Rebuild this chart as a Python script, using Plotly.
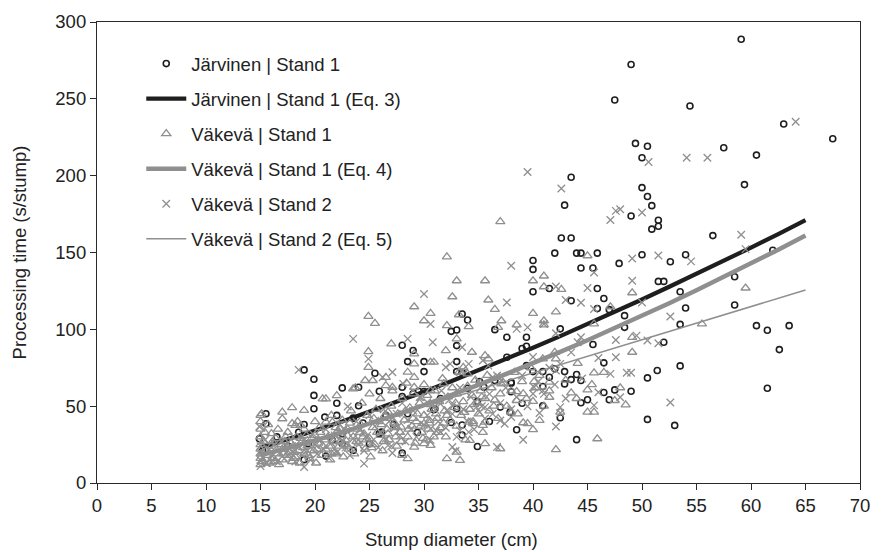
import plotly.graph_objects as go

# ---------------- data ----------------
jarvinen_pts = [
    (59.1, 288.8), (49.0, 272.3), (47.5, 249.2), (54.4, 245.3), (63.0, 233.6), (67.5, 224.0),
    (49.4, 221.0), (50.5, 219.1), (57.5, 218.2), (50.0, 211.7), (60.5, 213.4), (43.5, 199.0),
    (59.4, 194.2), (50.0, 192.2), (50.5, 186.4), (50.9, 180.5), (42.9, 180.8), (49.0, 173.8),
    (51.5, 171.0), (51.5, 167.1), (50.9, 165.2), (42.6, 159.4), (43.5, 159.4), (56.5, 161.0),
    (42.0, 149.6), (44.0, 149.6), (44.4, 149.6), (45.9, 149.6), (50.0, 148.5), (54.0, 148.5),
    (62.0, 151.5), (40.0, 144.8), (40.0, 139.0), (47.9, 142.9), (52.6, 144.0), (44.4, 139.9),
    (45.5, 139.9), (58.5, 134.2), (51.5, 131.2), (52.0, 131.2), (40.0, 124.5), (41.5, 126.6),
    (45.9, 126.6), (53.5, 124.5), (46.5, 120.1),
    (54.0, 113.9), (53.5, 103.2), (58.5, 115.8), (60.5, 102.4), (61.5, 99.4), (63.5, 102.4),
    (62.6, 86.8), (61.5, 61.7), (52.0, 91.6), (53.5, 76.2), (51.4, 73.2), (50.5, 68.4),
    (50.5, 41.4), (53.0, 37.5),
    (43.5, 118.6), (45.9, 113.6), (47.0, 112.8), (42.5, 100.3), (39.4, 94.8), (39.4, 89.0),
    (39.0, 87.5), (48.4, 108.9), (48.4, 101.3), (45.5, 90.1), (46.5, 78.2), (39.4, 76.4),
    (40.0, 72.5), (40.9, 72.5), (42.0, 74.3), (42.9, 72.5), (41.5, 68.8), (44.0, 70.6),
    (44.4, 66.7), (42.9, 64.5), (40.9, 62.8), (38.0, 64.9), (38.0, 59.4), (39.0, 51.9),
    (40.9, 50.3), (42.5, 42.5), (38.5, 34.7), (44.0, 28.2), (44.4, 52.2), (45.0, 54.2),
    (46.5, 58.9), (47.0, 54.2), (47.5, 60.6), (49.0, 59.7), (43.5, 67.3),
    (33.5, 110.0), (34.0, 106.1), (32.5, 98.7), (33.0, 99.6), (36.5, 99.8), (37.6, 94.8),
    (28.0, 89.6), (33.0, 89.4), (29.0, 86.2), (28.5, 79.0), (30.0, 79.0), (30.0, 72.5),
    (33.0, 79.0), (33.0, 72.5), (33.5, 72.1), (37.6, 81.8), (38.0, 65.6), (28.0, 62.3),
    (29.0, 58.1), (29.5, 59.7), (30.0, 59.5), (34.0, 61.7), (35.1, 66.0), (34.9, 53.1),
    (36.5, 66.7), (31.0, 48.3), (33.0, 48.3), (37.0, 49.4), (32.5, 39.4), (33.5, 37.7),
    (33.5, 31.2), (29.4, 32.9), (34.9, 23.8), (28.0, 19.5), (37.9, 46.1),
    (19.0, 73.6), (19.9, 67.5), (19.9, 57.0), (19.9, 48.3), (15.5, 45.1), (15.5, 38.6),
    (14.9, 28.8), (19.0, 38.1), (22.0, 51.9), (22.0, 44.0), (22.5, 61.9), (24.0, 62.3),
    (24.0, 50.3), (25.5, 71.4), (25.9, 59.7), (22.5, 32.1), (22.5, 25.6), (21.0, 17.5),
    (19.0, 15.2), (21.6, 27.7), (23.5, 21.2), (19.4, 25.6), (25.9, 32.1), (20.9, 42.9),
    (28.0, 56.3), (25.0, 25.6), (26.1, 33.1), (30.9, 47.7), (35.5, 62.3), (28.5, 45.1),
    (23.5, 42.2), (24.4, 39.0), (15.2, 21.0), (16.5, 30.0), (17.5, 24.0), (18.5, 33.0),
    (26.5, 44.0), (27.2, 38.0), (31.5, 55.0), (36.0, 40.0),
]

vakeva1_pts = [
    (37.0, 170.1), (32.1, 147.2), (33.0, 131.6), (35.6, 131.6), (32.6, 121.2), (40.0, 131.6),
    (41.0, 134.7), (41.0, 127.7), (42.6, 126.0), (45.0, 147.9), (49.1, 123.8), (59.5, 126.9),
    (45.6, 103.5), (47.1, 114.7), (55.5, 103.5), (49.1, 94.8), (49.1, 85.1), (44.1, 77.9),
    (45.6, 71.7), (40.0, 110.4), (42.1, 111.3), (38.5, 102.9), (41.0, 105.6), (41.0, 102.9),
    (45.0, 60.6), (43.5, 58.7), (48.5, 50.9), (47.5, 53.7), (45.0, 46.1), (45.6, 46.1),
    (41.5, 55.8), (40.0, 53.1), (40.6, 40.7), (39.1, 39.2), (39.5, 38.6), (40.0, 34.7),
    (42.1, 21.7), (45.9, 28.8), (42.5, 46.1), (38.0, 46.1), (42.1, 80.8), (40.9, 80.8),
    (41.5, 65.6), (40.1, 66.0), (38.5, 59.5), (39.1, 58.1), (38.5, 53.7),
    (29.1, 114.7), (30.6, 110.4), (30.0, 105.6), (35.9, 119.1), (36.5, 113.0), (33.2, 109.5),
    (34.1, 101.8), (37.1, 105.6), (36.8, 101.3), (32.1, 102.4), (27.0, 90.5), (29.1, 84.0),
    (29.1, 77.5), (30.6, 78.6), (30.9, 78.6), (33.0, 93.8), (32.0, 86.2), (34.4, 85.1),
    (35.6, 82.9), (35.9, 80.8), (28.5, 72.1), (26.5, 68.8), (26.5, 63.4), (27.1, 62.3),
    (29.1, 68.8), (29.1, 62.3), (30.6, 60.2), (31.8, 64.5), (33.6, 75.3), (34.0, 71.0),
    (36.9, 68.8), (37.1, 64.5), (26.7, 46.1), (27.3, 36.4), (27.9, 36.4), (29.1, 23.4),
    (30.0, 25.6), (30.6, 24.5), (32.1, 15.8), (33.0, 20.1), (34.1, 39.6), (34.5, 38.6),
    (35.6, 25.6), (33.3, 14.7), (34.2, 27.7), (35.4, 37.5), (35.6, 39.6), (37.0, 22.3),
    (28.5, 15.8), (30.0, 38.6), (30.5, 40.7),
    (24.9, 108.4), (25.5, 103.9), (24.9, 85.5), (24.9, 75.3), (24.6, 66.7), (25.3, 66.7),
    (15.1, 45.1), (17.0, 46.1), (17.0, 41.8), (17.9, 49.0), (19.0, 47.2), (20.7, 54.8),
    (21.0, 54.8), (22.0, 56.9), (23.5, 61.3), (23.7, 61.9), (17.9, 38.6), (18.2, 37.5),
    (18.7, 37.5), (16.0, 32.1), (21.0, 39.6), (21.6, 39.6), (22.3, 35.3), (22.8, 34.2),
    (15.0, 12), (15.0, 16), (15.0, 19), (15.0, 22), (15.0, 25), (15.0, 30), (15.0, 35),
    (15.0, 40), (15.0, 44), (15.2, 14), (15.3, 27), (15.6, 18), (15.8, 13), (16.0, 21),
    (16.0, 24), (16.2, 16), (16.4, 29), (16.5, 19), (16.7, 12), (17.0, 15), (17.0, 22),
    (17.2, 27), (17.4, 18), (17.5, 33), (17.7, 20), (17.9, 14), (18.0, 24), (18.2, 17),
    (18.3, 30), (18.5, 21), (18.6, 13), (18.8, 27), (19.0, 19), (19.0, 35), (19.3, 24),
    (19.5, 16), (19.7, 29), (19.9, 21), (20.0, 40), (20.1, 13), (20.3, 26), (20.5, 33),
    (20.6, 18), (21.0, 22), (21.2, 30), (21.4, 15), (21.5, 44), (21.7, 27), (21.9, 36),
    (22.0, 19), (22.2, 24), (22.4, 31), (22.5, 41), (22.6, 17), (22.8, 28), (23.0, 35),
    (23.1, 22), (23.3, 47), (23.5, 30), (23.6, 19), (24.0, 26), (24.2, 38), (24.3, 52),
    (24.5, 32), (24.6, 22), (24.8, 44), (25.0, 29), (25.0, 58), (25.1, 17), (25.3, 36),
    (25.5, 25), (25.6, 48), (25.8, 40), (26.0, 31), (26.0, 55), (26.2, 21), (26.4, 44),
    (26.6, 35), (26.8, 28), (27.0, 50), (27.1, 60), (27.3, 39), (27.5, 24), (27.6, 45),
    (27.8, 33), (28.0, 55), (28.0, 18), (28.2, 41), (28.4, 65), (28.5, 30), (28.7, 49),
    (28.9, 37), (29.0, 58), (29.2, 26), (29.4, 45), (29.6, 52), (29.8, 33), (30.0, 64),
    (30.0, 44), (30.2, 28), (30.3, 57), (30.5, 39), (30.7, 48), (30.9, 30), (31.0, 60),
    (31.2, 42), (31.4, 53), (31.5, 36), (31.7, 68), (31.9, 47), (32.0, 30), (32.2, 56),
    (32.4, 41), (32.6, 62), (32.8, 49), (33.0, 37), (33.0, 58), (33.2, 72), (33.4, 44),
    (33.6, 53), (33.8, 28), (34.0, 63), (34.2, 48), (34.4, 57), (34.5, 40), (34.7, 67),
    (34.9, 52), (35.0, 45), (35.2, 60), (35.4, 33), (35.6, 55), (35.8, 70), (36.0, 47),
    (36.2, 62), (36.5, 54), (36.8, 42), (37.0, 58), (37.3, 65), (37.6, 50), (38.0, 60),
    (38.3, 72), (38.6, 45), (39.0, 66), (39.4, 55), (39.8, 75), (40.2, 62), (40.6, 70),
    (41.0, 50), (41.5, 60), (42.0, 85), (43.0, 67), (44.0, 55), (45.4, 64), (46.5, 72),
    (48.0, 62),
    (15.4, 33), (15.7, 38), (16.1, 27), (16.6, 35), (16.9, 25), (17.3, 30), (17.8, 26),
    (18.1, 20), (18.4, 40), (18.9, 23), (19.2, 31), (19.6, 26), (20.2, 22), (20.4, 36),
    (20.9, 28), (21.3, 24), (21.8, 20), (22.1, 34), (22.7, 25), (23.2, 39), (23.8, 27),
    (24.1, 33), (24.7, 28), (25.2, 23), (25.7, 33), (26.3, 27), (26.9, 42), (27.4, 30),
    (27.9, 27), (28.6, 35), (29.3, 40), (29.9, 29), (30.4, 35), (31.1, 45), (31.8, 39),
    (15.5, 21), (16.3, 14), (17.1, 19), (18.0, 16), (18.7, 29), (19.4, 18), (20.0, 31),
    (20.7, 24), (21.5, 19), (22.3, 27), (23.0, 24), (23.9, 35), (24.4, 30), (25.4, 42),
    (26.1, 38), (26.7, 32), (27.5, 36), (28.3, 47), (29.0, 42), (29.7, 37), (30.6, 51),
    (31.3, 33), (32.1, 44), (32.9, 52), (33.7, 46), (34.6, 51), (35.3, 56), (36.4, 50),
]

vakeva2_pts = [
    (64.1, 235.1), (39.5, 202.4), (42.6, 191.6), (54.1, 211.7), (56.0, 211.7), (50.6, 208.9),
    (47.6, 177.1), (48.0, 178.2), (47.1, 171.2), (50.0, 176.0), (59.1, 161.5), (59.5, 152.2),
    (38.0, 141.4), (49.1, 146.1), (51.5, 148.1), (54.5, 144.2), (45.6, 137.0), (49.1, 131.6),
    (30.0, 123.0), (42.1, 127.9), (45.0, 126.9),
    (44.4, 117.3), (45.6, 113.2), (50.0, 117.5), (52.6, 108.4), (47.6, 93.1), (49.5, 95.9),
    (50.5, 92.7), (51.5, 90.9), (47.6, 81.8), (47.1, 71.0), (48.6, 71.7), (49.0, 71.7),
    (46.0, 81.4), (44.4, 94.8), (44.1, 91.6), (52.6, 52.4),
    (43.0, 119.1), (39.5, 101.3), (38.5, 100.3), (41.0, 103.5), (42.1, 97.4), (46.0, 59.1),
    (48.0, 55.8), (45.6, 50.5), (42.5, 49.4), (42.5, 45.5), (40.6, 45.5), (42.1, 36.8),
    (39.1, 28.2), (40.0, 58.1), (40.9, 60.2), (40.1, 62.3), (42.1, 73.2), (42.5, 77.5),
    (37.6, 117.5), (30.6, 103.5), (28.5, 93.8), (30.8, 91.6), (33.5, 88.3), (32.0, 75.3),
    (32.4, 77.5), (35.4, 79.7), (35.9, 76.4), (27.1, 72.1), (28.1, 64.5), (26.2, 68.8),
    (33.5, 73.2), (34.1, 77.5), (36.3, 68.8), (29.7, 55.8), (30.3, 52.6), (31.5, 51.6),
    (32.1, 47.2), (32.6, 50.5), (34.8, 49.4), (35.1, 46.1), (35.6, 49.4), (37.0, 40.7),
    (37.4, 38.6), (38.0, 42.9), (30.6, 35.3), (31.1, 34.2), (31.5, 33.1), (32.6, 23.4),
    (32.9, 20.8), (36.7, 23.4), (27.1, 19.5), (26.7, 24.5), (33.3, 34.2), (34.1, 33.1),
    (23.5, 93.8), (18.5, 73.6), (24.9, 80.8), (14.9, 36.8), (23.0, 49.8), (24.5, 12.6),
    (19.0, 10.4), (15.5, 13.0), (16.1, 14.7),
    (15.0, 11), (15.0, 15), (15.0, 20), (15.0, 24), (15.2, 17), (15.4, 28), (15.6, 13),
    (15.8, 22), (16.0, 18), (16.3, 25), (16.5, 14), (16.8, 20), (17.0, 27), (17.2, 16),
    (17.5, 23), (17.8, 19), (18.0, 30), (18.2, 14), (18.5, 24), (18.8, 18), (19.0, 28),
    (19.3, 21), (19.6, 15), (19.8, 32), (20.0, 25), (20.2, 19), (20.5, 28), (20.8, 22),
    (21.0, 35), (21.3, 16), (21.5, 26), (21.8, 31), (22.0, 20), (22.3, 38), (22.5, 27),
    (22.8, 23), (23.0, 33), (23.2, 18), (23.5, 29), (23.8, 40), (24.0, 25), (24.2, 35),
    (24.5, 21), (24.8, 31), (25.0, 44), (25.2, 27), (25.5, 37), (25.8, 23), (26.0, 33),
    (26.3, 48), (26.5, 29), (26.8, 40), (27.0, 24), (27.3, 36), (27.5, 45), (27.8, 31),
    (28.0, 52), (28.3, 27), (28.5, 41), (28.8, 35), (29.0, 47), (29.3, 30), (29.6, 56),
    (30.0, 38), (30.3, 44), (30.6, 28), (31.0, 50), (31.3, 40), (31.6, 60), (32.0, 36),
    (32.3, 54), (32.6, 45), (33.0, 30), (33.3, 62), (33.6, 48), (34.0, 40), (34.3, 56),
    (34.6, 35), (35.0, 66), (35.3, 50), (35.6, 42), (36.0, 58), (36.3, 45), (36.7, 70),
    (37.0, 52), (37.5, 62), (38.0, 48), (38.5, 56), (39.0, 70), (39.5, 50), (40.0, 82),
    (40.5, 66), (41.0, 58), (41.5, 75), (42.0, 64), (43.0, 55), (43.5, 85), (44.5, 68),
]

# fitted curves
curve_d = [15, 17.5, 20, 22.5, 25, 27.5, 30, 32.5, 35, 37.5, 40, 42.5, 45, 47.5, 50,
           52.5, 55, 57.5, 60, 62.5, 65]
eq3_y = [23.0, 28.4, 34.1, 40.0, 46.3, 52.7, 59.4, 66.2, 73.3, 80.6, 88.0, 95.6, 103.4,
         111.3, 119.4, 127.7, 136.0, 144.6, 153.2, 162.0, 171.0]
eq4_y = [18.0, 22.7, 27.7, 33.0, 38.6, 44.5, 50.7, 57.1, 63.8, 70.8, 77.9, 85.3, 92.9,
         100.7, 108.8, 117.0, 125.4, 134.0, 142.8, 151.8, 161.0]
eq5_y = [17.6, 23.0, 28.4, 33.8, 39.2, 44.6, 50.0, 55.4, 60.8, 66.2, 71.6, 77.0, 82.4,
         87.8, 93.2, 98.6, 104.0, 109.4, 114.8, 120.2, 125.6]

x_ticks = [0, 5, 10, 15, 20, 25, 30, 35, 40, 45, 50, 55, 60, 65, 70]
y_ticks = [0, 50, 100, 150, 200, 250, 300]

names = ["Järvinen | Stand 1", "Järvinen | Stand 1 (Eq. 3)", "Väkevä | Stand 1",
         "Väkevä | Stand 1 (Eq. 4)", "Väkevä | Stand 2", "Väkevä | Stand 2 (Eq. 5)"]

# ---------------- figure ----------------
FONT = "Liberation Sans, Arial, sans-serif"
BLACK = "#1e1e1e"
GRAY = "#8f8f8f"
FS = 18.5

def unzip(pts):
    return [p[0] for p in pts], [p[1] for p in pts]

jx, jy = unzip(jarvinen_pts)
v1x, v1y = unzip(vakeva1_pts)
v2x, v2y = unzip(vakeva2_pts)

fig = go.Figure()
fig.add_trace(go.Scatter(x=jx, y=jy, mode="markers", name=names[0], legendgroup="a",
                         marker=dict(symbol="circle-open", size=6, color=BLACK,
                                     line=dict(width=1.6, color=BLACK))))
fig.add_trace(go.Scatter(x=curve_d, y=eq3_y, mode="lines", name=names[1], legendgroup="b",
                         line=dict(color=BLACK, width=4.2)))
fig.add_trace(go.Scatter(x=v1x, y=v1y, mode="markers", name=names[2], legendgroup="c",
                         marker=dict(symbol="triangle-up-open", size=8, color=GRAY,
                                     line=dict(width=1.3, color=GRAY))))
fig.add_trace(go.Scatter(x=curve_d, y=eq4_y, mode="lines", name=names[3], legendgroup="d",
                         line=dict(color=GRAY, width=4.5)))
fig.add_trace(go.Scatter(x=v2x, y=v2y, mode="markers", name=names[4], legendgroup="e",
                         marker=dict(symbol="x-thin-open", size=7.5, color=GRAY,
                                     line=dict(width=1.3, color=GRAY))))
fig.add_trace(go.Scatter(x=curve_d, y=eq5_y, mode="lines", name=names[5], legendgroup="f",
                         line=dict(color=GRAY, width=1.5)))

axis_common = dict(showline=True, linecolor="#2a2a2a", linewidth=1.2, mirror=True,
                   ticks="outside", ticklen=6, tickwidth=1.2, tickcolor="#2a2a2a",
                   showgrid=False, zeroline=False,
                   tickfont=dict(family=FONT, size=FS, color="#222"))

fig.update_layout(
    width=881, height=552,
    margin=dict(l=97, r=11, t=21, b=69),
    paper_bgcolor="white", plot_bgcolor="white",
    font=dict(family=FONT, size=FS, color="#222"),
    xaxis=dict(range=[0, 70], tickvals=x_ticks, **axis_common),
    yaxis=dict(range=[0, 300], tickvals=y_ticks, **axis_common),
    showlegend=True,
    legend=dict(x=0.058, y=0.95, xanchor="left", yanchor="top",
                bgcolor="rgba(0,0,0,0)", borderwidth=0,
                font=dict(family=FONT, size=FS, color="#222"),
                itemwidth=40, tracegroupgap=8, traceorder="grouped"),
    annotations=[
        dict(text="Stump diameter (cm)", xref="paper", yref="paper",
             x=0.465, y=-0.123, xanchor="center", yanchor="middle", showarrow=False,
             font=dict(family=FONT, size=FS, color="#222")),
        dict(text="Processing time (s/stump)", xref="paper", yref="paper",
             x=-0.101, y=0.5, xanchor="center", yanchor="middle", textangle=-90,
             showarrow=False, font=dict(family=FONT, size=FS, color="#222")),
    ],
)

# remove the browser's default 8 px body margin so the figure fills the window exactly
fig.write_html("out.html",
               config={"displayModeBar": False},
               post_script="document.body.style.margin='0px';"
                           "document.body.style.overflow='hidden';")
